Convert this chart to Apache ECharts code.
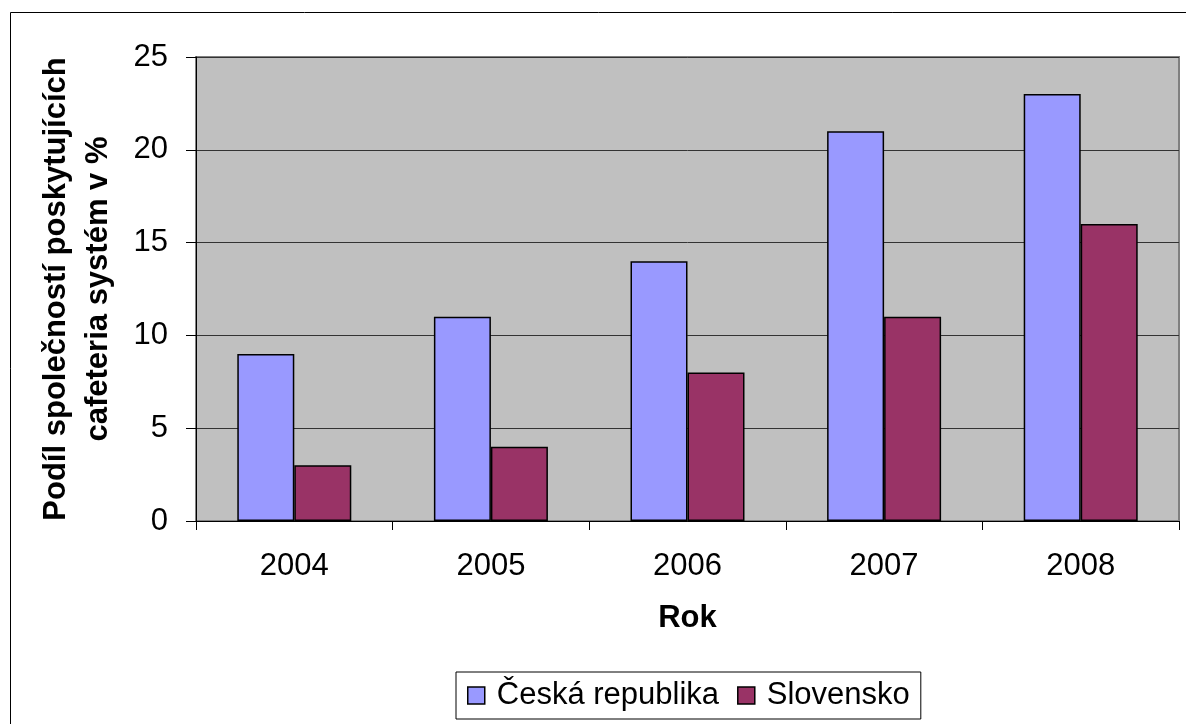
<!DOCTYPE html>
<html>
<head>
<meta charset="utf-8">
<script src="https://cdn.jsdelivr.net/npm/echarts@6/dist/echarts.min.js"></script>
<style>
  html, body { margin: 0; padding: 0; background: #fff; }
  #chart { width: 1186px; height: 724px; }
</style>
</head>
<body>
<div id="chart"></div>
<script>
'use strict';

var years = ['2004', '2005', '2006', '2007', '2008'];
var ceskaRepublika = [9, 11, 14, 21, 23];
var slovensko = [3, 4, 8, 11, 16];
var seriesNames = ['Česká republika', 'Slovensko'];
var yTitle = 'Podíl společností poskytujících\ncafeteria systém v %';
var xTitle = 'Rok';

var font = 'Liberation Sans, Arial, sans-serif';
var chart = echarts.init(document.getElementById('chart'));

chart.setOption({
    animation: false,
    backgroundColor: '#ffffff',
    textStyle: {fontFamily: font, color: '#000'},
    graphic: [{
        type: 'rect',
        shape: {x: 10.5, y: 12.5, width: 1300, height: 800},
        style: {fill: 'none', stroke: '#000', lineWidth: 1},
        silent: true
    }],
    grid: {
        left: 196,
        right: 7,
        top: 57,
        bottom: 203,
        show: true,
        backgroundColor: '#c0c0c0',
        borderColor: '#808080',
        borderWidth: 2
    },
    legend: {
        left: 456,
        top: 672,
        padding: [8, 11, 8, 11],
        itemWidth: 17,
        itemHeight: 17,
        itemGap: 18,
        icon: 'rect',
        borderColor: '#000',
        borderWidth: 1,
        textStyle: {fontFamily: font, fontSize: 31, color: '#000', padding: [0, 0, 0, 7]},
        itemStyle: {borderColor: '#000', borderWidth: 1.5},
        data: seriesNames
    },
    xAxis: {
        type: 'category',
        data: years,
        name: xTitle,
        nameLocation: 'middle',
        nameGap: 82,
        nameTextStyle: {fontFamily: font, fontSize: 31, fontWeight: 'bold', color: '#000'},
        axisLine: {lineStyle: {color: '#000', width: 1}},
        axisTick: {show: true, alignWithLabel: false, length: 9, lineStyle: {color: '#000'}},
        axisLabel: {fontFamily: font, fontSize: 31, color: '#000', margin: 30}
    },
    yAxis: {
        type: 'value',
        min: 0,
        max: 25,
        interval: 5,
        name: yTitle,
        nameLocation: 'middle',
        nameRotate: 90,
        nameGap: 77,
        nameTextStyle: {fontFamily: font, fontSize: 31, fontWeight: 'bold', color: '#000', lineHeight: 42},
        axisLine: {show: true, lineStyle: {color: '#000', width: 1}},
        axisTick: {show: true, length: 10, lineStyle: {color: '#000'}},
        axisLabel: {fontFamily: font, fontSize: 31, color: '#000', margin: 28},
        splitLine: {lineStyle: {color: '#333', width: 1}}
    },
    series: [{
        name: seriesNames[0],
        type: 'bar',
        data: ceskaRepublika,
        barWidth: 57,
        barGap: '0%',
        itemStyle: {color: '#9999ff', borderColor: '#000', borderWidth: 1.5}
    }, {
        name: seriesNames[1],
        type: 'bar',
        data: slovensko,
        barWidth: 57,
        barGap: '0%',
        itemStyle: {color: '#993366', borderColor: '#000', borderWidth: 1.5}
    }]
});
</script>
</body>
</html>
